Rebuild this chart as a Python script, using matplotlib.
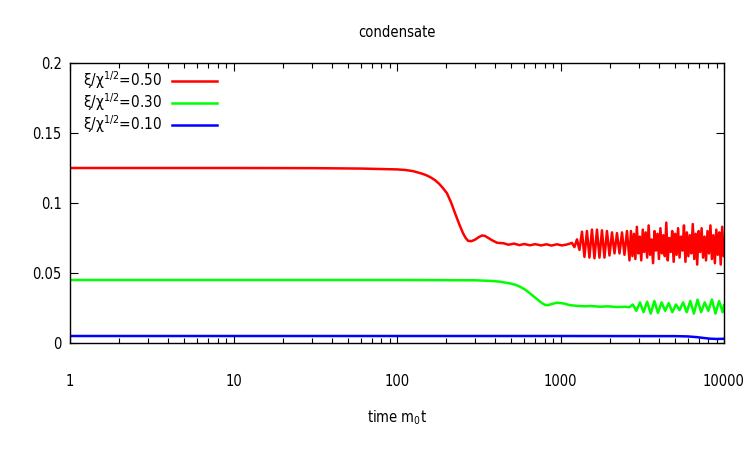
import matplotlib
matplotlib.use("Agg")
import matplotlib.pyplot as plt
from matplotlib.ticker import LogLocator, NullFormatter

plt.rcParams['font.family'] = ['DejaVu Sans']
plt.rcParams['font.stretch'] = 'condensed'
plt.rcParams['mathtext.default'] = 'regular'

# ---- data ----
red_t = [1, 10, 30, 60, 100, 112, 125, 140, 150, 159, 170, 180, 190, 202, 214, 226, 240, 253, 263, 272, 285,
         300, 315, 331, 345, 360, 380, 409, 450, 480, 520, 560, 600, 650, 700, 760, 820, 880, 950, 1020, 1100,
         1175, 1217, 1261, 1306, 1353, 1401, 1451, 1503, 1557, 1613, 1671, 1731, 1793, 1857, 1924, 1993,
         2065, 2139, 2215, 2295, 2377, 2462, 2550, 2642,
         2697, 2754, 2812, 2871, 2931, 2993, 3055, 3119, 3185, 3251, 3319, 3389, 3460, 3532, 3606, 3682,
         3759, 3838, 3918, 4000, 4084, 4169, 4257, 4346, 4437, 4530, 4625, 4722, 4821, 4921, 5025, 5130,
         5237, 5347, 5459, 5573, 5690, 5809, 5931, 6055, 6181, 6310, 6443, 6577, 6715, 6856, 6999, 7146,
         7295, 7448, 7604, 7763, 7926, 8092, 8261, 8435, 8611, 8792, 8976, 9161, 9353, 9548, 9748, 9952, 10000]
red_v = [0.125, 0.125, 0.1249, 0.1246, 0.1240, 0.1236, 0.1228, 0.1212, 0.1200, 0.1186, 0.1165, 0.1140, 0.1110, 0.1070, 0.1005, 0.0930, 0.0850, 0.0786, 0.0750, 0.0730, 0.0727,
         0.0738, 0.0755, 0.0768, 0.0765, 0.0752, 0.0735, 0.0716, 0.0712, 0.0702, 0.0710, 0.0699, 0.0707, 0.0698, 0.0706, 0.0697, 0.0705, 0.0696, 0.0705, 0.0697, 0.0704,
         0.0715, 0.0685, 0.0740, 0.0665, 0.0795, 0.0615, 0.0800, 0.0610, 0.0810, 0.0605, 0.0810, 0.0610, 0.0805, 0.0610, 0.0800, 0.0625,
         0.0790, 0.0640, 0.0785, 0.0640, 0.0790, 0.0630, 0.0800, 0.0590,
         0.0800, 0.0620, 0.0780, 0.0600, 0.0830, 0.0640, 0.0760, 0.0590, 0.0810, 0.0650, 0.0790, 0.0610, 0.0840, 0.0630, 0.0740, 0.0570,
         0.0800, 0.0660, 0.0780, 0.0600, 0.0820, 0.0640, 0.0770, 0.0620, 0.0860, 0.0590, 0.0750, 0.0650, 0.0800, 0.0580, 0.0780, 0.0630,
         0.0820, 0.0610, 0.0760, 0.0660, 0.0840, 0.0580, 0.0790, 0.0620, 0.0770, 0.0640, 0.0850, 0.0600, 0.0780, 0.0560, 0.0800, 0.0650,
         0.0820, 0.0610, 0.0760, 0.0590, 0.0800, 0.0640, 0.0840, 0.0600, 0.0770, 0.0570, 0.0810, 0.0630, 0.0790, 0.0560, 0.0830, 0.0620, 0.0700]

green_t = [1, 10, 100, 300, 380, 426, 490, 530, 565, 610, 650, 690, 730, 770, 804, 840, 880, 950, 1050, 1143,
           1250, 1400, 1550, 1740, 1950, 2200, 2500,
           2630, 2767, 2911, 3062, 3221, 3388, 3565, 3750, 3945, 4150, 4365, 4592, 4831, 5082, 5346, 5623,
           5916, 6223, 6546, 6887, 7244, 7621, 8017, 8433, 8872, 9333, 9817, 10000]
green_v = [0.045, 0.045, 0.045, 0.0448, 0.0443, 0.0438, 0.0426, 0.0416, 0.0402, 0.0380, 0.0355, 0.0330, 0.0307, 0.0285, 0.0272, 0.0270, 0.0278, 0.0288, 0.0282, 0.0270,
           0.0266, 0.0262, 0.0264, 0.0259, 0.0262, 0.0257, 0.0259,
           0.0255, 0.0275, 0.023, 0.029, 0.022, 0.0295, 0.021, 0.030, 0.0215, 0.029, 0.023, 0.0285, 0.022, 0.0275, 0.0235, 0.029,
           0.022, 0.030, 0.021, 0.031, 0.022, 0.029, 0.023, 0.031, 0.021, 0.030, 0.022, 0.027]

blue_t = [1, 10, 100, 1000, 5000, 6000, 6800, 7500, 8200, 9000, 10000]
blue_v = [0.005, 0.005, 0.005, 0.005, 0.0049, 0.0047, 0.0042, 0.0036, 0.0031, 0.0029, 0.0030]

labels = ['ξ/χ$^{1/2}$=0.50', 'ξ/χ$^{1/2}$=0.30', 'ξ/χ$^{1/2}$=0.10']
colors = ['#ff0000', '#00ff00', '#0000ff']
y_ticks = [0, 0.05, 0.1, 0.15, 0.2]
y_tick_labels = ['0', '0.05', '0.1', '0.15', '0.2']
x_ticks = [1, 10, 100, 1000, 10000]
x_tick_labels = ['1', '10', '100', '1000', '10000']

# ---- figure ----
fig = plt.figure(figsize=(7.5, 4.5), dpi=100)
ax = fig.add_axes([70/750, 1-343/450, (724-70)/750, (343-63)/450])

for t, v, lab, c in zip([red_t, green_t, blue_t], [red_v, green_v, blue_v], labels, colors):
    ax.plot(t, v, color=c, lw=1.8, label=lab)

ax.set_xscale('log')
ax.set_xlim(1, 10000)
ax.set_ylim(0, 0.2)
ax.set_xticks(x_ticks)
ax.set_xticklabels(x_tick_labels)
ax.xaxis.set_minor_locator(LogLocator(base=10, subs=range(2, 10), numticks=20))
ax.xaxis.set_minor_formatter(NullFormatter())
ax.set_yticks(y_ticks)
ax.set_yticklabels(y_tick_labels)

ax.tick_params(which='both', direction='in', top=True, right=True, colors='black', labelsize=10.5)
ax.tick_params(which='major', length=6, width=0.8)
ax.tick_params(which='minor', length=3.5, width=0.8)
ax.tick_params(axis='x', pad=22)
ax.tick_params(axis='y', pad=6)
for s in ax.spines.values():
    s.set_linewidth(1.0)

ax.set_title('condensate', fontsize=10.5, pad=19)
ax.set_xlabel('time m$_0$t', fontsize=10.5, labelpad=14)

ax.legend(loc='upper left', bbox_to_anchor=(5/654, 1 + 2/280), frameon=False, markerfirst=False,
          fontsize=11, handlelength=2.95, handletextpad=0.6, labelspacing=0.02, borderaxespad=0.25,
          borderpad=0.3)

fig.savefig('out.png', dpi=100)
